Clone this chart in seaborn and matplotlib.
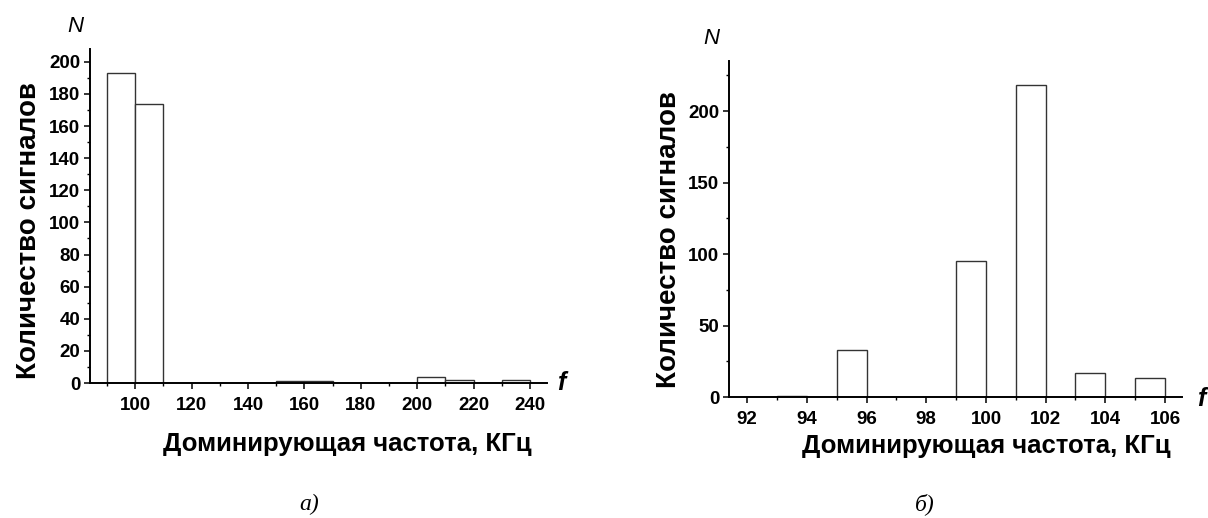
import numpy as np
import pandas as pd
import matplotlib
matplotlib.use("Agg")
import matplotlib.pyplot as plt
import seaborn as sns
from matplotlib.ticker import MultipleLocator

# =====================================================
# DATA
# =====================================================

# panel a: bin edges 90..240, width 10 KHz
a_edges = [90, 100, 110, 120, 130, 140, 150, 160, 170, 180, 190, 200, 210, 220, 230, 240]
a_counts = [193, 174, 0, 0, 0, 0, 1, 1, 0, 0, 0, 4, 2, 0, 2]

# panel b: bin edges 92..106, width 1 KHz
b_edges = [92, 93, 94, 95, 96, 97, 98, 99, 100, 101, 102, 103, 104, 105, 106]
b_counts = [0, 1, 0, 33, 0, 0, 0, 95, 0, 218, 0, 17, 0, 13]

x_label = "Доминирующая частота, КГц"
y_label = "Количество сигналов"

# =====================================================
# STYLE
# =====================================================

sns.set_style("ticks")
plt.rcParams["font.family"] = ["Liberation Sans", "DejaVu Sans"]
plt.rcParams["text.color"] = "black"
plt.rcParams["xtick.color"] = "black"
plt.rcParams["ytick.color"] = "black"
plt.rcParams["axes.labelcolor"] = "black"

W, H = 1208, 518
fig = plt.figure(figsize=(W / 100, H / 100), dpi=100)


def px_axes(x0, x1, y_top, y_bottom):
    return fig.add_axes([x0 / W, 1 - y_bottom / H, (x1 - x0) / W, (y_bottom - y_top) / H])


ax_a = px_axes(90, 547, 49, 383)
ax_b = px_axes(729, 1182, 61, 397)


def draw_hist(ax, edges, counts):
    centers = [(lo + hi) / 2 for lo, hi in zip(edges[:-1], edges[1:])]
    df = pd.DataFrame({"freq": centers, "n": counts})
    sns.histplot(
        data=df,
        x="freq",
        weights="n",
        bins=list(edges),
        ax=ax,
        color="white",
        edgecolor="#333333",
        linewidth=1.0,
        alpha=1,
    )
    ax.set_xlabel("")
    ax.set_ylabel("")
    sns.despine(ax=ax)
    for side in ["left", "bottom"]:
        ax.spines[side].set_linewidth(1.4)
        ax.spines[side].set_color("black")
        ax.spines[side].set_zorder(5)
    ax.tick_params(which="major", length=4, width=1.1, direction="out",
                   labelsize=13.5, pad=3)
    ax.tick_params(axis="x", which="major", pad=6)
    ax.tick_params(which="minor", length=2.5, width=1, direction="out")


# =====================================================
# PANEL a
# =====================================================

draw_hist(ax_a, a_edges, a_counts)
ax_a.set_xlim(84, 246)
ax_a.set_ylim(0, 208)
ax_a.xaxis.set_minor_locator(MultipleLocator(10))
ax_a.yaxis.set_minor_locator(MultipleLocator(10))
ax_a.set_xticks(range(100, 241, 20))
ax_a.set_yticks(range(0, 201, 20))
for lab in ax_a.get_xticklabels() + ax_a.get_yticklabels():
    lab.set_fontweight("bold")

# =====================================================
# PANEL b
# =====================================================

draw_hist(ax_b, b_edges, b_counts)
ax_b.set_xlim(91.39, 106.57)
ax_b.set_ylim(0, 235)
ax_b.xaxis.set_minor_locator(MultipleLocator(1))
ax_b.yaxis.set_minor_locator(MultipleLocator(25))
ax_b.set_xticks(range(92, 107, 2))
ax_b.set_yticks(range(0, 201, 50))
for lab in ax_b.get_xticklabels() + ax_b.get_yticklabels():
    lab.set_fontweight("bold")

# =====================================================
# LABELS
# =====================================================

xlab_font = dict(family="Liberation Sans", fontweight="bold", fontsize=18.5)
ylab_font = dict(family="Liberation Sans", fontweight="bold", fontsize=20)

ax_a.set_xlabel(x_label, **xlab_font)
ax_a.xaxis.set_label_coords(0.564, -0.146)
ax_a.set_ylabel(y_label, **ylab_font)
ax_a.yaxis.set_label_coords(-0.105, 0.456)

ax_b.set_xlabel(x_label, **xlab_font)
ax_b.xaxis.set_label_coords(0.568, -0.11)
ax_b.set_ylabel(y_label, **ylab_font)
ax_b.yaxis.set_label_coords(-0.103, 0.47)


def px_text(x, y, s, **kw):
    fig.text(x / W, 1 - y / H, s, ha="center", va="center", **kw)


px_text(75, 27, "N", fontsize=16, style="italic")
px_text(711, 39, "N", fontsize=16, style="italic")
px_text(561, 383, "f", fontsize=18, style="italic", fontweight="bold")
px_text(1201, 399, "f", fontsize=18, style="italic", fontweight="bold")
px_text(309, 504, "а)", fontsize=17, style="italic", family="Liberation Serif")
px_text(925, 504, "б)", fontsize=17, style="italic", family="Liberation Serif")

fig.savefig("out.png", dpi=100)
